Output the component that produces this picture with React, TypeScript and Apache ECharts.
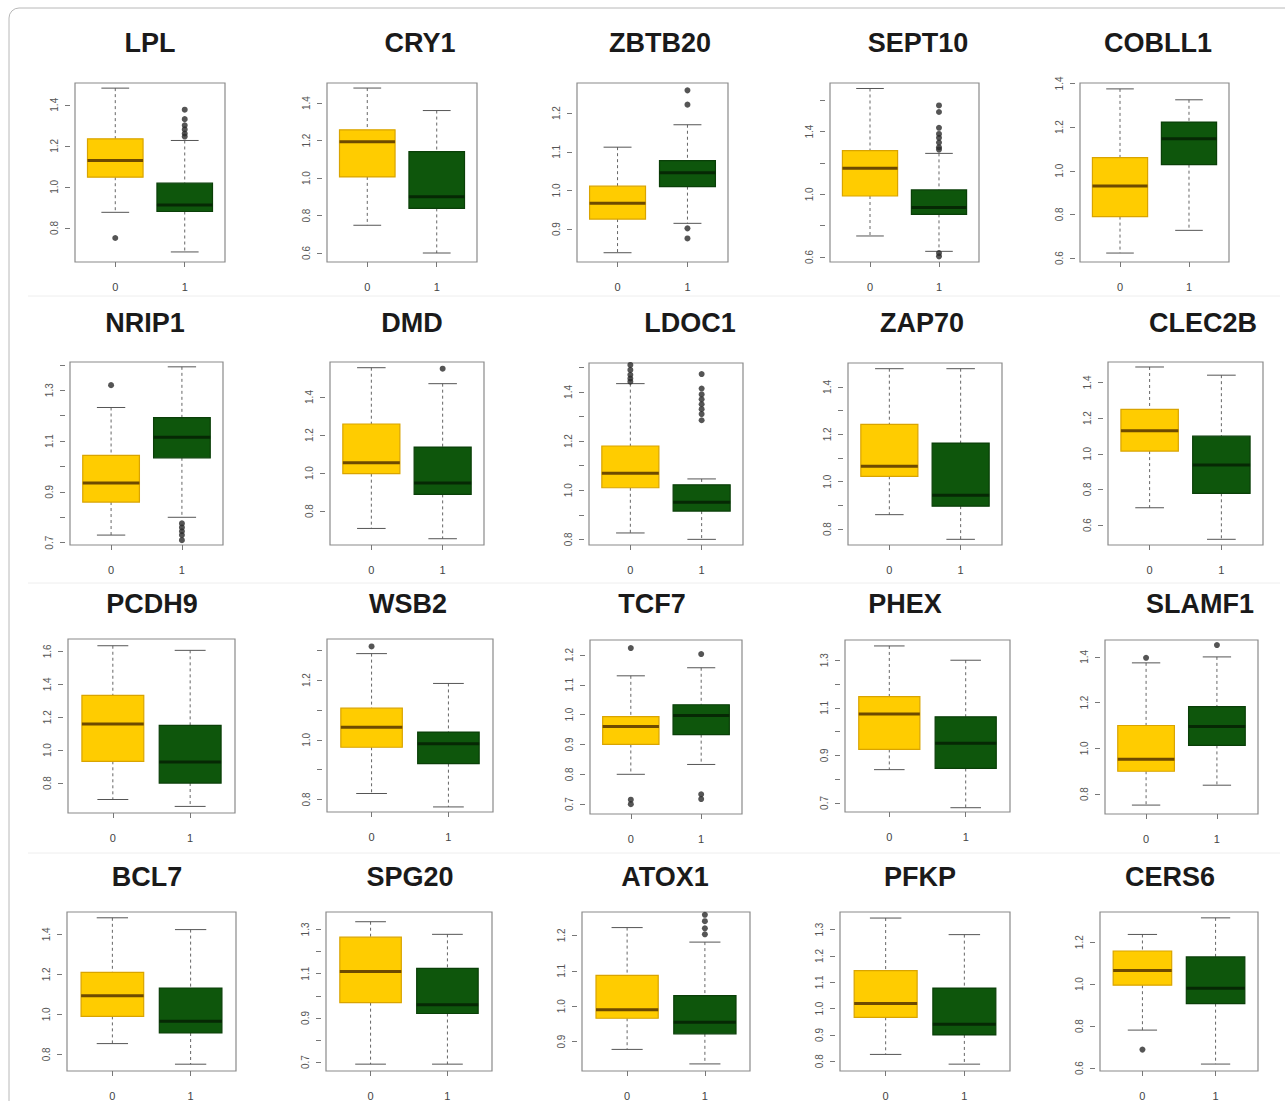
import React, { useEffect, useRef } from "react";
import * as echarts from "echarts";

// ---------------- DATA ----------------
const genes = [
  "LPL", "CRY1", "ZBTB20", "SEPT10", "COBLL1",
  "NRIP1", "DMD", "LDOC1", "ZAP70", "CLEC2B",
  "PCDH9", "WSB2", "TCF7", "PHEX", "SLAMF1",
  "BCL7", "SPG20", "ATOX1", "PFKP", "CERS6",
];
const groupLabels = ["0", "1"];

// [lower whisker, Q1, median, Q3, upper whisker]
const group0Stats = [
  [0.876, 1.047, 1.128, 1.234, 1.481],
  [0.748, 1.006, 1.194, 1.257, 1.48],
  [0.839, 0.926, 0.967, 1.011, 1.112],
  [0.734, 0.989, 1.166, 1.278, 1.675],
  [0.623, 0.79, 0.93, 1.06, 1.375],
  [0.73, 0.86, 0.935, 1.044, 1.232],
  [0.709, 0.997, 1.055, 1.258, 1.554],
  [0.826, 1.01, 1.069, 1.18, 1.434],
  [0.861, 1.023, 1.065, 1.242, 1.477],
  [0.697, 1.015, 1.129, 1.249, 1.487],
  [0.7, 0.932, 1.159, 1.333, 1.634],
  [0.82, 0.975, 1.042, 1.106, 1.289],
  [0.8, 0.9, 0.96, 0.993, 1.13],
  [0.84, 0.925, 1.074, 1.147, 1.36],
  [0.752, 0.9, 0.952, 1.1, 1.374],
  [0.854, 0.99, 1.093, 1.21, 1.483],
  [0.691, 0.969, 1.11, 1.265, 1.335],
  [0.878, 0.966, 0.99, 1.087, 1.222],
  [0.826, 0.967, 1.019, 1.144, 1.344],
  [0.781, 0.995, 1.065, 1.158, 1.237],
];
const group1Stats = [
  [0.683, 0.88, 0.912, 1.018, 1.226],
  [0.6, 0.838, 0.9, 1.141, 1.36],
  [0.915, 1.01, 1.046, 1.077, 1.17],
  [0.636, 0.872, 0.915, 1.028, 1.261],
  [0.727, 1.028, 1.147, 1.223, 1.325],
  [0.8, 1.034, 1.115, 1.192, 1.392],
  [0.655, 0.888, 0.948, 1.137, 1.47],
  [0.8, 0.915, 0.951, 1.022, 1.046],
  [0.757, 0.897, 0.943, 1.163, 1.477],
  [0.52, 0.778, 0.937, 1.099, 1.441],
  [0.658, 0.8, 0.928, 1.15, 1.606],
  [0.775, 0.92, 0.987, 1.026, 1.189],
  [0.833, 0.933, 0.997, 1.033, 1.157],
  [0.68, 0.845, 0.951, 1.062, 1.3],
  [0.839, 1.013, 1.096, 1.183, 1.4],
  [0.751, 0.907, 0.966, 1.132, 1.424],
  [0.691, 0.92, 0.96, 1.124, 1.278],
  [0.837, 0.922, 0.955, 1.03, 1.181],
  [0.789, 0.9, 0.941, 1.078, 1.281],
  [0.619, 0.907, 0.981, 1.13, 1.316],
];
const group0Outliers = [
  [0.751], [], [], [], [],
  [1.32], [], [1.51, 1.49, 1.47, 1.455, 1.442], [], [],
  [], [1.313], [1.223, 0.715, 0.7], [], [1.396],
  [], [], [], [], [0.688],
];
const group1Outliers = [
  [1.376, 1.33, 1.3, 1.28, 1.26, 1.245], [], [1.259, 1.222, 0.902, 0.876],
  [1.567, 1.525, 1.424, 1.385, 1.36, 1.33, 1.3, 1.285, 0.625, 0.604], [],
  [0.776, 0.76, 0.745, 0.73, 0.71], [1.549], [1.473, 1.414, 1.39, 1.37, 1.35, 1.33, 1.31, 1.285], [], [],
  [], [], [1.203, 0.733, 0.717], [], [1.452],
  [], [], [1.258, 1.24, 1.22, 1.203], [], [],
];
// y axis range per panel [min, max]
const yRanges = [
  [0.634, 1.506], [0.552, 1.507], [0.815, 1.278], [0.568, 1.71], [0.582, 1.402],
  [0.691, 1.411], [0.622, 1.584], [0.777, 1.518], [0.733, 1.501], [0.488, 1.515],
  [0.618, 1.675], [0.758, 1.338], [0.667, 1.25], [0.662, 1.385], [0.713, 1.474],
  [0.717, 1.512], [0.66, 1.379], [0.817, 1.266], [0.763, 1.367], [0.586, 1.344],
];
const yTicks = [
  [0.8, 1.0, 1.2, 1.4], [0.6, 0.8, 1.0, 1.2, 1.4], [0.9, 1.0, 1.1, 1.2],
  [0.6, 0.8, 1.0, 1.2, 1.4, 1.6], [0.6, 0.8, 1.0, 1.2, 1.4],
  [0.7, 0.8, 0.9, 1.0, 1.1, 1.2, 1.3, 1.4], [0.8, 1.0, 1.2, 1.4],
  [0.8, 0.9, 1.0, 1.1, 1.2, 1.3, 1.4, 1.5], [0.8, 0.9, 1.0, 1.1, 1.2, 1.3, 1.4],
  [0.6, 0.8, 1.0, 1.2, 1.4],
  [0.8, 1.0, 1.2, 1.4, 1.6], [0.8, 0.9, 1.0, 1.1, 1.2, 1.3], [0.7, 0.8, 0.9, 1.0, 1.1, 1.2],
  [0.7, 0.8, 0.9, 1.0, 1.1, 1.2, 1.3], [0.8, 1.0, 1.2, 1.4],
  [0.8, 1.0, 1.2, 1.4], [0.7, 0.8, 0.9, 1.0, 1.1, 1.2, 1.3], [0.9, 1.0, 1.1, 1.2],
  [0.8, 0.9, 1.0, 1.1, 1.2, 1.3], [0.6, 0.8, 1.0, 1.2],
];
const yTickLabels = [
  [0.8, 1.0, 1.2, 1.4], [0.6, 0.8, 1.0, 1.2, 1.4], [0.9, 1.0, 1.1, 1.2],
  [0.6, 1.0, 1.4], [0.6, 0.8, 1.0, 1.2, 1.4],
  [0.7, 0.9, 1.1, 1.3], [0.8, 1.0, 1.2, 1.4],
  [0.8, 1.0, 1.2, 1.4], [0.8, 1.0, 1.2, 1.4],
  [0.6, 0.8, 1.0, 1.2, 1.4],
  [0.8, 1.0, 1.2, 1.4, 1.6], [0.8, 1.0, 1.2], [0.7, 0.8, 0.9, 1.0, 1.1, 1.2],
  [0.7, 0.9, 1.1, 1.3], [0.8, 1.0, 1.2, 1.4],
  [0.8, 1.0, 1.2, 1.4], [0.7, 0.9, 1.1, 1.3], [0.9, 1.0, 1.1, 1.2],
  [0.8, 0.9, 1.0, 1.1, 1.2, 1.3], [0.6, 0.8, 1.0, 1.2],
];

// ---------------- LAYOUT ----------------
// plot frame per panel: [left, top, width, height]
const frames = [
  [75, 83, 150, 179], [327, 83, 150, 179], [577, 83, 151, 179], [830, 83, 149, 179], [1080, 83, 149, 179],
  [70, 362, 153, 183], [330, 362, 154, 183], [589, 363, 154, 182], [848, 363, 154, 182], [1108, 362, 155, 183],
  [68, 639, 167, 174], [327, 639, 166, 173], [590, 640, 152, 174], [845, 640, 165, 172], [1105, 640, 153, 174],
  [67, 912, 169, 163], [326, 912, 166, 163], [582, 912, 168, 163], [840, 912, 170, 163], [1100, 912, 158, 163],
];
const titleX = [150, 420, 660, 918, 1158, 145, 412, 690, 922, 1203, 152, 408, 652, 905, 1200, 147, 410, 665, 920, 1170];
const titleY = [43, 323, 604, 877];

const YELLOW = "#FFCC00";
const YELLOW_BORDER = "#D9A400";
const YELLOW_MEDIAN = "#6E4A00";
const GREEN = "#0E560C";
const GREEN_BORDER = "#0A3F08";
const GREEN_MEDIAN = "#062804";
const FONT = '"Liberation Sans", Arial, sans-serif';

function renderBox(params: any, api: any) {
  const x = api.value(0);
  const lw = api.coord([x, api.value(1)]);
  const q1 = api.coord([x, api.value(2)]);
  const md = api.coord([x, api.value(3)]);
  const q3 = api.coord([x, api.value(4)]);
  const uw = api.coord([x, api.value(5)]);
  const bw = api.size([0.8, 0])[0];
  const cx = md[0];
  const isA = x === 1;
  const fill = isA ? YELLOW : GREEN;
  const border = isA ? YELLOW_BORDER : GREEN_BORDER;
  const medC = isA ? YELLOW_MEDIAN : GREEN_MEDIAN;
  const dash = { stroke: "#666", lineWidth: 1, lineDash: [3, 3] };
  const cap = { stroke: "#555", lineWidth: 1 };
  return {
    type: "group",
    children: [
      { type: "line", shape: { x1: cx, y1: uw[1], x2: cx, y2: q3[1] }, style: dash },
      { type: "line", shape: { x1: cx, y1: q1[1], x2: cx, y2: lw[1] }, style: dash },
      { type: "line", shape: { x1: cx - bw / 4, y1: uw[1], x2: cx + bw / 4, y2: uw[1] }, style: cap },
      { type: "line", shape: { x1: cx - bw / 4, y1: lw[1], x2: cx + bw / 4, y2: lw[1] }, style: cap },
      {
        type: "rect",
        shape: { x: cx - bw / 2, y: q3[1], width: bw, height: q1[1] - q3[1] },
        style: { fill, stroke: border, lineWidth: 1.2 },
      },
      {
        type: "line",
        shape: { x1: cx - bw / 2, y1: md[1], x2: cx + bw / 2, y2: md[1] },
        style: { stroke: medC, lineWidth: 3 },
      },
    ],
  };
}

export default function App() {
  const ref = useRef<HTMLDivElement>(null);
  useEffect(() => {
    document.body.style.margin = "0";
    if (!ref.current) return;
    const chart = echarts.init(ref.current, undefined, { renderer: "svg" });

    const grid: any[] = [];
    const xAxis: any[] = [];
    const yAxis: any[] = [];
    const series: any[] = [];
    const graphic: any[] = [];

    graphic.push({
      type: "rect",
      shape: { x: 9, y: 8, width: 1320, height: 1140, r: 10 },
      style: { fill: "none", stroke: "#b8b8b8", lineWidth: 1 },
      z: 100,
    });
    [296, 583, 853].forEach((y) => {
      graphic.push({
        type: "line",
        shape: { x1: 28, y1: y, x2: 1280, y2: y },
        style: { stroke: "#eeeeee", lineWidth: 1 },
      });
    });

    genes.forEach((g, i) => {
      const [l, t, w, h] = frames[i];
      grid.push({
        left: l, top: t, width: w, height: h,
        show: true, borderColor: "#8a8a8a", borderWidth: 1.2, backgroundColor: "#fff",
        containLabel: false,
      });
      xAxis.push({
        gridIndex: i, type: "value", min: 0.42, max: 2.58,
        splitLine: { show: false },
        axisLine: { show: false },
        axisTick: { show: true, length: 5, customValues: [1, 2], lineStyle: { color: "#777" } },
        axisLabel: {
          customValues: [1, 2],
          formatter: (v: number) => groupLabels[Math.round(v) - 1],
          fontSize: 11, color: "#444", fontFamily: FONT, margin: 19,
        },
      });
      yAxis.push({
        gridIndex: i, type: "value", min: yRanges[i][0], max: yRanges[i][1],
        offset: 5,
        splitLine: { show: false },
        axisLine: { show: false },
        axisTick: { show: true, length: 5, customValues: yTicks[i], lineStyle: { color: "#777" } },
        axisLabel: {
          customValues: yTickLabels[i],
          formatter: (v: number) => v.toFixed(1),
          rotate: 90, fontSize: 10, color: "#555", fontFamily: FONT, margin: 11,
        },
      });
      series.push({
        type: "custom",
        xAxisIndex: i, yAxisIndex: i,
        renderItem: renderBox,
        encode: { x: 0, y: [1, 2, 3, 4, 5] },
        data: [[1, ...group0Stats[i]], [2, ...group1Stats[i]]],
        z: 2,
      });
      series.push({
        type: "scatter",
        xAxisIndex: i, yAxisIndex: i,
        symbol: "circle", symbolSize: 6,
        itemStyle: { color: "#2a2a2a" },
        data: [
          ...group0Outliers[i].map((v) => [1, v]),
          ...group1Outliers[i].map((v) => [2, v]),
        ],
        z: 3,
      });
      graphic.push({
        type: "text",
        x: titleX[i], y: titleY[Math.floor(i / 5)],
        style: {
          text: g, font: `bold 27px ${FONT}`, fill: "#1a1a1a",
          textAlign: "center", textVerticalAlign: "middle",
        },
      });
    });

    chart.setOption({
      animation: false,
      backgroundColor: "#ffffff",
      grid, xAxis, yAxis, series, graphic,
    });
    return () => chart.dispose();
  }, []);
  return <div ref={ref} style={{ width: 1285, height: 1101 }} />;
}
